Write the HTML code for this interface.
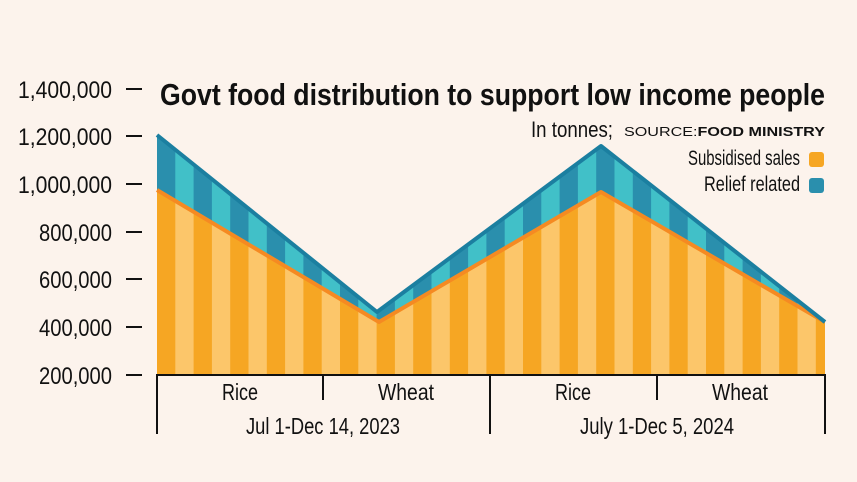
<!DOCTYPE html>
<html><head><meta charset="utf-8"><style>
html,body{margin:0;padding:0;background:#fcf3ec;}
svg{display:block}
text{font-family:"Liberation Sans Narrow","Liberation Sans",sans-serif;fill:#111}
</style></head><body>
<svg width="857" height="482" viewBox="0 0 857 482" xmlns="http://www.w3.org/2000/svg">
<defs>
<pattern id="po" x="157" y="0" width="36.6" height="482" patternUnits="userSpaceOnUse">
<rect width="18.3" height="482" fill="#f6a623"/><rect x="18.3" width="18.3" height="482" fill="#fcc66a"/>
</pattern>
<pattern id="pt" x="157" y="0" width="36.6" height="482" patternUnits="userSpaceOnUse">
<rect width="18.3" height="482" fill="#2a8fad"/><rect x="18.3" width="18.3" height="482" fill="#41c0c8"/>
</pattern>
</defs>
<rect width="857" height="482" fill="#fcf3ec"/>
<polygon points="157,135 377,312 601,146 825,322 825,375 157,375" fill="url(#pt)"/>
<polygon points="157,190 379,322 601,192 825,322 825,375 157,375" fill="url(#po)"/>
<polyline points="157,190 379,322 601,192 825,322" fill="none" stroke="#f58a22" stroke-width="4" stroke-linejoin="round"/>
<polyline points="157,135 377,312 601,146 825,322" fill="none" stroke="#1b7fa0" stroke-width="4" stroke-linejoin="round"/>
<g stroke="#111" stroke-width="2">
<line x1="156" y1="375" x2="826" y2="375"/>
<line x1="157" y1="375" x2="157" y2="434"/>
<line x1="490" y1="375" x2="490" y2="434"/>
<line x1="825" y1="375" x2="825" y2="434"/>
<line x1="323" y1="375" x2="323" y2="400"/>
<line x1="657" y1="375" x2="657" y2="400"/>
<line x1="126" y1="89" x2="142" y2="89"/>
<line x1="126" y1="136" x2="142" y2="136"/>
<line x1="126" y1="184" x2="142" y2="184"/>
<line x1="126" y1="232" x2="142" y2="232"/>
<line x1="126" y1="279" x2="142" y2="279"/>
<line x1="126" y1="327" x2="142" y2="327"/>
<line x1="126" y1="375" x2="142" y2="375"/>
</g>
<g font-size="24" lengthAdjust="spacingAndGlyphs">
<text x="18" y="98" textLength="94" lengthAdjust="spacingAndGlyphs">1,400,000</text>
<text x="18" y="145" textLength="94" lengthAdjust="spacingAndGlyphs">1,200,000</text>
<text x="18" y="193" textLength="94" lengthAdjust="spacingAndGlyphs">1,000,000</text>
<text x="39" y="241" textLength="73" lengthAdjust="spacingAndGlyphs">800,000</text>
<text x="39" y="288" textLength="73" lengthAdjust="spacingAndGlyphs">600,000</text>
<text x="39" y="336" textLength="73" lengthAdjust="spacingAndGlyphs">400,000</text>
<text x="39" y="384" textLength="73" lengthAdjust="spacingAndGlyphs">200,000</text>
</g>
<text x="160" y="105" font-size="31" font-weight="bold" textLength="665" lengthAdjust="spacingAndGlyphs">Govt food distribution to support low income people</text>
<text x="531" y="137" font-size="22" textLength="82" lengthAdjust="spacingAndGlyphs">In tonnes;</text>
<text x="624" y="136" font-size="13" font-family="Liberation Sans,sans-serif" textLength="201" lengthAdjust="spacingAndGlyphs">SOURCE:<tspan font-weight="bold">FOOD MINISTRY</tspan></text>
<text x="688" y="165" font-size="21" textLength="112" lengthAdjust="spacingAndGlyphs">Subsidised sales</text>
<text x="704" y="191" font-size="21" textLength="96" lengthAdjust="spacingAndGlyphs">Relief  related</text>
<rect x="809" y="152" width="15" height="15" rx="3" fill="#f6a623"/>
<rect x="809" y="178" width="15" height="15" rx="3" fill="#2a8fad"/>
<g font-size="23">
<text x="222" y="400" textLength="36" lengthAdjust="spacingAndGlyphs">Rice</text>
<text x="378" y="400" textLength="56" lengthAdjust="spacingAndGlyphs">Wheat</text>
<text x="555" y="400" textLength="36" lengthAdjust="spacingAndGlyphs">Rice</text>
<text x="712" y="400" textLength="56" lengthAdjust="spacingAndGlyphs">Wheat</text>
<text x="246" y="434" textLength="154" lengthAdjust="spacingAndGlyphs">Jul 1-Dec 14, 2023</text>
<text x="580" y="434" textLength="154" lengthAdjust="spacingAndGlyphs">July 1-Dec 5, 2024</text>
</g>
</svg>
</body></html>
